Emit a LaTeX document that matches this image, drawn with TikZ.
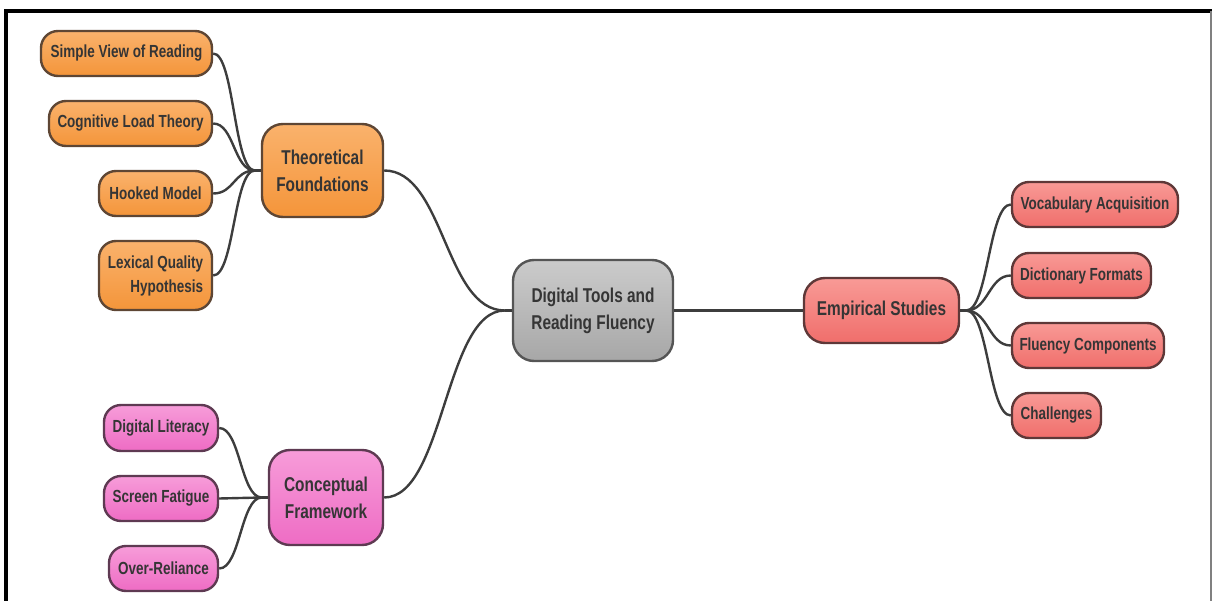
\documentclass[tikz,border=0pt]{standalone}
\usepackage{fontspec}
\setmainfont{Liberation Sans}[FakeStretch=0.77]

\definecolor{txt}{HTML}{353535}
\definecolor{linkc}{HTML}{3D3D3D}
\definecolor{orgline}{HTML}{5E4634}
\definecolor{orgtop}{HTML}{FAB26C}
\definecolor{orgbot}{HTML}{F4953A}
\definecolor{pnkline}{HTML}{5E3A52}
\definecolor{pnktop}{HTML}{F79CD9}
\definecolor{pnkbot}{HTML}{EE6CC4}
\definecolor{redline}{HTML}{5E3838}
\definecolor{redtop}{HTML}{F89A96}
\definecolor{redbot}{HTML}{F06E6B}
\definecolor{gryline}{HTML}{555555}
\definecolor{grytop}{HTML}{CBCBCB}
\definecolor{grybot}{HTML}{A7A7A7}

\tikzset{
  box/.style={rounded corners=17pt, line width=2.4pt, text=txt, align=center,
    inner sep=0pt, font=\bfseries\fontsize{17.5}{24}\selectfont},
  hubbox/.style={box, rounded corners=21pt, font=\bfseries\fontsize{20}{27}\selectfont},
  orangefill/.style={draw=orgline, top color=orgtop, bottom color=orgbot},
  pinkfill/.style={draw=pnkline, top color=pnktop, bottom color=pnkbot},
  redfill/.style={draw=redline, top color=redtop, bottom color=redbot},
  grayfill/.style={draw=gryline, top color=grytop, bottom color=grybot},
  link/.style={draw=linkc, line width=2.4pt},
}

\begin{document}
\begin{tikzpicture}[x=1pt, y=-1pt]
  \useasboundingbox (0,0) rectangle (1212,601);

  % page frame
  \draw[line width=4pt] (6,601) -- (6,11) -- (1212,11);
  \draw[gray, line width=1.5pt] (1211,11) -- (1211,601);

  % central topic
  \node[hubbox, grayfill, minimum width=160, minimum height=101] (root) at (593,310.5)
    {Digital Tools and\\Reading Fluency};

  % main branches
  \node[hubbox, orangefill, minimum width=121, minimum height=93] (tf) at (322.5,170.5)
    {Theoretical\\Foundations};
  \node[hubbox, pinkfill, minimum width=114, minimum height=95] (cf) at (326,497.5)
    {Conceptual\\Framework};
  \node[hubbox, redfill, minimum width=155, minimum height=65] (es) at (881.5,310.5)
    {Empirical Studies};

  % theoretical foundations
  \node[box, orangefill, minimum width=171, minimum height=45] (svr) at (126.5,53.5)
    {Simple View of Reading};
  \node[box, orangefill, minimum width=163, minimum height=45] (clt) at (130.5,123.5)
    {Cognitive Load Theory};
  \node[box, orangefill, minimum width=113, minimum height=45] (hm) at (155.5,193.5)
    {Hooked Model};
  \node[box, orangefill, align=right, minimum width=113, minimum height=69] (lqh) at (155.5,275.5)
    {Lexical Quality\\Hypothesis};

  % conceptual framework
  \node[box, pinkfill, minimum width=114, minimum height=46] (dl) at (161,428)
    {Digital Literacy};
  \node[box, pinkfill, minimum width=114, minimum height=45] (sf) at (161,498.5)
    {Screen Fatigue};
  \node[box, pinkfill, minimum width=109, minimum height=45] (orl) at (163.5,568.5)
    {Over-Reliance};

  % empirical studies
  \node[box, redfill, minimum width=166, minimum height=45] (va) at (1095,204.5)
    {Vocabulary Acquisition};
  \node[box, redfill, minimum width=139, minimum height=45] (df) at (1081.5,275.5)
    {Dictionary Formats};
  \node[box, redfill, minimum width=152, minimum height=45] (fc) at (1088,345.5)
    {Fluency Components};
  \node[box, redfill, minimum width=89, minimum height=45] (ch) at (1056.5,415.5)
    {Challenges};

  % junction points just outside the parents
  \coordinate (jr) at ([xshift=-7pt]root.west);
  \coordinate (jt) at ([xshift=-6pt]tf.west);
  \coordinate (jc) at ([xshift=-6pt]cf.west);
  \coordinate (je) at ([xshift=6pt]es.east);

  % links from the central topic
  \draw[link] (root.west) -- (jr);
  \draw[link] (jr) .. controls +(-60,0) and +(60,0) .. (tf.east);
  \draw[link] (jr) .. controls +(-60,0) and +(60,0) .. (cf.east);
  \draw[link] (root.east) -- (es.west);

  % links of theoretical foundations
  \draw[link] (tf.west) -- (jt);
  \foreach \c in {svr,clt,hm,lqh}
    \draw[link] (jt) .. controls +(-21,0) and +(21,0) .. (\c.east);

  % links of conceptual framework
  \draw[link] (cf.west) -- (jc);
  \foreach \c in {dl,sf,orl}
    \draw[link] (jc) .. controls +(-21,0) and +(21,0) .. (\c.east);

  % links of empirical studies
  \draw[link] (es.east) -- (je);
  \foreach \c in {va,df,fc,ch}
    \draw[link] (je) .. controls +(22,0) and +(-22,0) .. (\c.west);
\end{tikzpicture}
\end{document}
